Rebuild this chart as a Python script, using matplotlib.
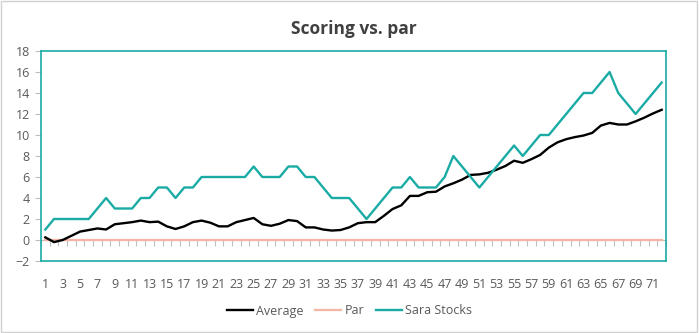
import matplotlib.pyplot as plt
from matplotlib.patches import Rectangle

plt.rcParams['font.family'] = ['Open Sans', 'DejaVu Sans']

# Hole numbers (categories)
holes = list(range(1, 73))

# Cumulative score vs. par
average = [0.25, -0.2, 0.0, 0.4, 0.8, 0.95, 1.1, 1.0, 1.5, 1.6,
           1.7, 1.85, 1.7, 1.75, 1.3, 1.05, 1.3, 1.7, 1.85, 1.65,
           1.3, 1.3, 1.7, 1.9, 2.1, 1.5, 1.35, 1.55, 1.9, 1.8,
           1.2, 1.2, 1.0, 0.9, 0.95, 1.2, 1.6, 1.7, 1.7, 2.3,
           2.95, 3.3, 4.2, 4.2, 4.55, 4.6, 5.1, 5.4, 5.75, 6.2,
           6.25, 6.4, 6.7, 7.05, 7.55, 7.35, 7.7, 8.1, 8.8, 9.3,
           9.6, 9.8, 9.95, 10.2, 10.9, 11.15, 11.0, 11.0, 11.3, 11.65,
           12.05, 12.4]
par = [0] * 72
sara = [1, 2, 2, 2, 2, 2, 3, 4, 3, 3,
        3, 4, 4, 5, 5, 4, 5, 5, 6, 6,
        6, 6, 6, 6, 7, 6, 6, 6, 7, 7,
        6, 6, 5, 4, 4, 4, 3, 2, 3, 4,
        5, 5, 6, 5, 5, 5, 6, 8, 7, 6,
        5, 6, 7, 8, 9, 8, 9, 10, 10, 11,
        12, 13, 14, 14, 15, 16, 14, 13, 12, 13,
        14, 15]

teal = '#1AABA5'
salmon = '#F4B5A5'
grey = '#595959'

fig = plt.figure(figsize=(6.99, 3.33), dpi=100)
ax = fig.add_axes([41 / 699, 1 - 261 / 333, 625 / 699, 210 / 333])

ax.plot(holes, par, color=salmon, lw=1.6, label='Par', zorder=2)
ax.plot(holes, average, color='black', lw=1.7, label='Average', zorder=3)
ax.plot(holes, sara, color=teal, lw=1.7, label='Sara Stocks', zorder=3)

ax.set_xlim(0.5, 72.5)
ax.set_ylim(-2, 18)
ax.set_yticks(range(-2, 19, 2))
ax.set_xticks(holes[::2])
ax.tick_params(axis='x', length=0, pad=12, labelsize=9, labelcolor=grey)
ax.tick_params(axis='y', length=4, color='#BFBFBF', labelsize=9,
               labelcolor=grey, pad=4)
for s in ax.spines.values():
    s.set_color(teal)
    s.set_linewidth(1.2)

# category axis crossing at zero with tick marks between categories
sec = ax.secondary_xaxis(0.1)
sec.set_xticks([h + 0.5 for h in [0] + holes])
sec.tick_params(length=4, color='#BFBFBF', labelbottom=False)
sec.spines['bottom'].set_color('#BFBFBF')

ax.set_title('Scoring vs. par', fontsize=12.5, fontweight='bold',
             color='#404040', pad=12)

h, l = ax.get_legend_handles_labels()
order = [1, 0, 2]
fig.legend([h[i] for i in order], [l[i] for i in order], loc='center',
           bbox_to_anchor=(0.5, 1 - 311 / 333), ncol=3, frameon=False,
           fontsize=9, handlelength=2.1, handletextpad=0.25, columnspacing=0.9,
           labelcolor=grey)

fig.patches.append(Rectangle((0.001, 0.002), 0.996, 0.995,
                             transform=fig.transFigure, fill=False,
                             edgecolor='#D0D0D0', lw=1))

fig.savefig('out.png', dpi=100)
